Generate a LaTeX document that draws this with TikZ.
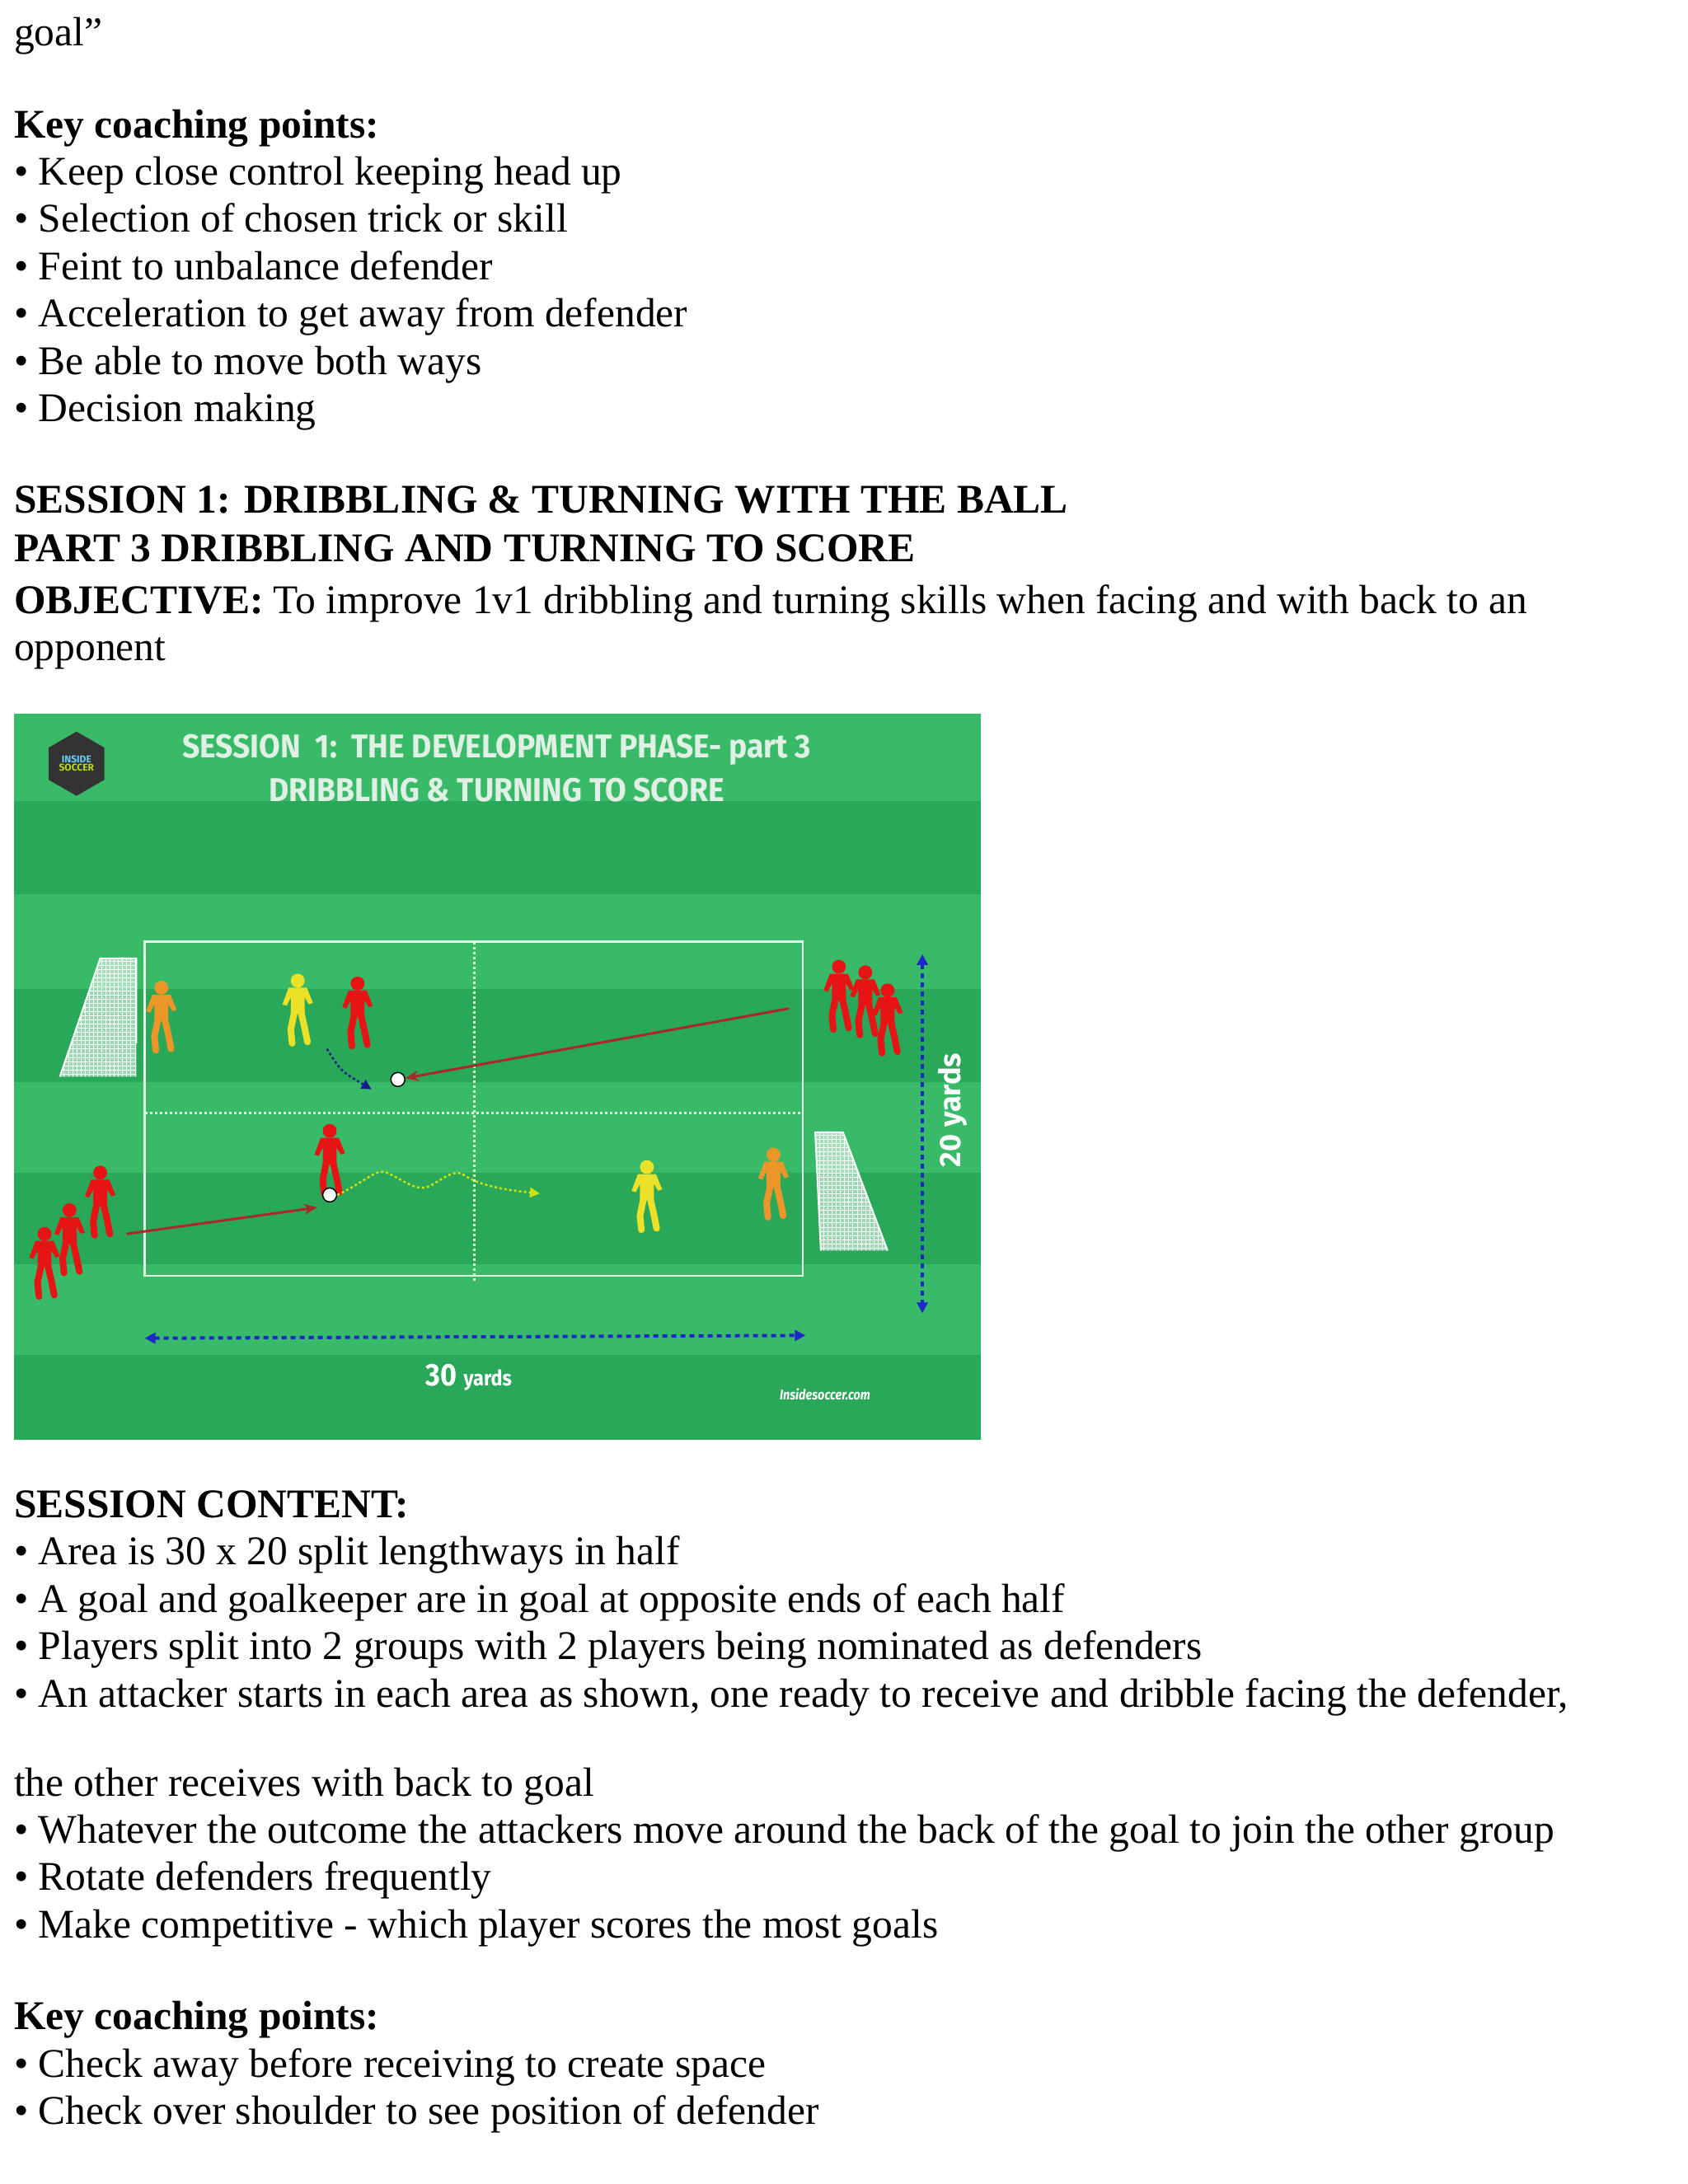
\documentclass[tikz,border=0pt]{standalone}
\usepackage{fontspec}
\setmainfont{Liberation Serif}
\newfontfamily\titlefont{Fira Sans}
\usetikzlibrary{arrows.meta,shapes.geometric,decorations.pathmorphing}
\definecolor{glight}{RGB}{56,186,104}
\definecolor{gdark}{RGB}{42,168,90}
\definecolor{ttl}{RGB}{225,240,228}
\definecolor{pred}{RGB}{230,20,20}
\definecolor{pyel}{RGB}{235,225,40}
\definecolor{porg}{RGB}{235,150,40}
\definecolor{arr}{RGB}{170,40,40}
\definecolor{dblue}{RGB}{30,40,200}
\newcommand\bodyfs{\fontsize{49.5}{54}\selectfont}
\tikzset{
  txt/.style={anchor=base west,inner sep=0pt,font=\bodyfs},
  hd/.style={txt,font=\bodyfs\bfseries},
  ttlnode/.style={inner sep=0pt,text=ttl,font=\titlefont\bfseries\fontsize{40}{44}\selectfont},
  pics/player/.style={code={
    \fill[#1] (0,-45) circle (5);
    \fill[#1] (-6.5,-40) -- (6.5,-40) -- (11,-29) -- (8,-28) -- (5,-33) -- (5,-21) -- (-5,-21) -- (-5,-33) -- (-8,-27) -- (-11,-28) -- cycle;
    \draw[#1,line width=8pt,line cap=round] (-2.5,-22) -- (-5,-10) -- (-4,0) (2.5,-22) -- (5,-11) -- (7,-1);
  }},
  field/.style={draw=white!90!green,line width=2.5pt},
  fdash/.style={draw=white!85!green,line width=2.5pt,dash pattern=on 3pt off 3pt},
  meas/.style={draw=dblue,line width=4pt,dash pattern=on 6pt off 5pt}
}
\begin{document}
\begin{tikzpicture}[x=1.688pt,y=-1.688pt]
\useasboundingbox (0,0) rectangle (1213,1570);
\fill[white] (0,0) rectangle (1213,1570);
% top text
\node[txt] (t0) at (10,33) {goal”};
\node[hd] (k1) at (10,99) {Key coaching points:};
\node[txt] (b1) at (10,133) {• Keep close control keeping head up};
\node[txt] (b2) at (10,167) {• Selection of chosen trick or skill};
\node[txt] (b3) at (10,201) {• Feint to unbalance defender};
\node[txt] (b4) at (10,235) {• Acceleration to get away from defender};
\node[txt] (b5) at (10,269) {• Be able to move both ways};
\node[txt] (b6) at (10,303) {• Decision making};
\node[hd] (s1) at (10,369) {SESSION 1: DRIBBLING \& TURNING WITH THE BALL};
\node[hd] (s2) at (10,404) {PART 3 DRIBBLING AND TURNING TO SCORE};
\node[txt] (s3) at (10,441) {\textbf{OBJECTIVE:} To improve 1v1 dribbling and turning skills when facing and with back to an};
\node[txt] (s4) at (10,475) {opponent};
% diagram background
\fill[glight] (10,513) rectangle (705,1035);
\foreach \a/\b in {576/643,711/778,843/909,974/1035}{\fill[gdark] (10,\a) rectangle (705,\b);}
% logo
\node[regular polygon,regular polygon sides=6,fill=black!80,minimum size=78pt,inner sep=0pt,rotate=90] (logo) at (55,549) {};
\node[font=\titlefont\bfseries\fontsize{12}{12}\selectfont,text=cyan!60!white,align=center,inner sep=0pt] (logot) at (55,549) {INSIDE\\[-2pt]{\color{yellow!70!green}SOCCER}};
\node[ttlnode] (ttl1) at (357,539) {\scalebox{0.93}[1]{SESSION\ \ 1:\ \ THE DEVELOPMENT PHASE- part 3}};
\node[ttlnode] (ttl2) at (357,568) {\scalebox{0.93}[1]{DRIBBLING \& TURNING TO SCORE}};
% field
\draw[field] (104,677) rectangle (577,917);
\coordinate (vt) at (341,677); \coordinate (vb) at (341,921);
\coordinate (hl) at (104,800); \coordinate (hr) at (577,800);
\draw[fdash] (vt) -- (vb);
\draw[fdash] (hl) -- (hr);
% goals
\begin{scope}
\clip (72,689) -- (98,689) -- (98,774) -- (43,774) -- cycle;
\fill[white,opacity=0.55] (40,685) rectangle (100,776);
\foreach \i in {0,3,...,60}{\draw[white,line width=0.4pt] (40+\i,685) -- (40+\i,776);}
\foreach \i in {0,3,...,90}{\draw[white,line width=0.4pt] (40,685+\i) -- (100,685+\i);}
\end{scope}
\draw[white,line width=2pt] (43,774) -- (72,689) -- (98,689) -- (98,750);
\begin{scope}
\clip (586,814) -- (606,814) -- (638,899) -- (590,899) -- cycle;
\fill[white,opacity=0.55] (580,810) rectangle (640,902);
\foreach \i in {0,3,...,60}{\draw[white,line width=0.4pt] (580+\i,810) -- (580+\i,902);}
\foreach \i in {0,3,...,92}{\draw[white,line width=0.4pt] (580,810+\i) -- (640,810+\i);}
\end{scope}
\draw[white,line width=2pt] (590,899) -- (586,814) -- (606,814) -- (638,899);
% players
\pic at (116,755) {player=porg};
\pic at (214,750) {player=pyel};
\pic at (257,752) {player=pred};
\pic at (603,740) {player=pred};
\pic at (622,744) {player=pred};
\pic at (638,757) {player=pred};
\pic at (237,858) {player=pred};
\pic at (72,888) {player=pred};
\pic at (50,915) {player=pred};
\pic at (32,932) {player=pred};
\pic at (465,884) {player=pyel};
\pic at (556,875) {player=porg};
% balls
\node[circle,draw=black,fill=white,line width=1.5pt,minimum size=17pt,inner sep=0pt] (ball1) at (286,776) {};
\node[circle,draw=black,fill=white,line width=1.5pt,minimum size=17pt,inner sep=0pt] (ball2) at (237,859) {};
\coordinate (r1s) at (567,725);
\coordinate (r2s) at (91,887); \coordinate (r2e) at (228,868);
\draw[arr,line width=3pt,-{Stealth[length=16pt,width=13pt]}] (r1s) -- (ball1);
\draw[arr,line width=3pt,-{Stealth[length=16pt,width=13pt]}] (r2s) -- (r2e);
\coordinate (bl1) at (235,754); \coordinate (bl2) at (267,783);
\draw[dblue!70!black,line width=2.5pt,dash pattern=on 3pt off 3pt,-{Triangle[length=12pt,width=12pt]}] (bl1) .. controls (245,770) .. (bl2);
\coordinate (ye) at (388,858);
\draw[yellow!80!green,line width=2.5pt,dash pattern=on 3pt off 3pt,-{Triangle[length=12pt,width=12pt]}] (ball2.east) .. controls (265,848) and (270,840) .. (278,843) .. controls (290,848) and (300,858) .. (310,852) .. controls (320,846) and (328,840) .. (334,845) .. controls (345,852) and (360,855) .. (ye);
% measurements
\coordinate (ml) at (104,962); \coordinate (mr) at (579,960);
\draw[meas,{Triangle[length=13pt,width=13pt]}-{Triangle[length=13pt,width=13pt]}] (ml) -- (mr);
\coordinate (mt) at (663,686); \coordinate (mb) at (663,944);
\draw[meas,{Triangle[length=13pt,width=13pt]}-{Triangle[length=13pt,width=13pt]}] (mt) -- (mb);
\node[inner sep=0pt,text=white,font=\titlefont\bfseries] (l30) at (337,990) {\scalebox{0.9}[1]{\fontsize{38}{40}\selectfont 30 \fontsize{26}{28}\selectfont yards}};
\node[inner sep=0pt,text=white,font=\titlefont\bfseries\fontsize{36}{38}\selectfont,rotate=90] (l20) at (685,798) {20 yards};
\node[inner sep=0pt,text=white,font=\titlefont\bfseries\itshape\fontsize{17}{19}\selectfont] (web) at (593,1002) {\scalebox{0.85}[1]{Insidesoccer.com}};
% bottom text
\node[hd] (c0) at (10,1091) {SESSION CONTENT:};
\node[txt] (c1) at (10,1125) {• Area is 30 x 20 split lengthways in half};
\node[txt] (c2) at (10,1159) {• A goal and goalkeeper are in goal at opposite ends of each half};
\node[txt] (c3) at (10,1193) {• Players split into 2 groups with 2 players being nominated as defenders};
\node[txt] (c4) at (10,1227) {• An attacker starts in each area as shown, one ready to receive and dribble facing the defender,};
\node[txt] (c5) at (10,1291) {the other receives with back to goal};
\node[txt] (c6) at (10,1325) {• Whatever the outcome the attackers move around the back of the goal to join the other group};
\node[txt] (c7) at (10,1359) {• Rotate defenders frequently};
\node[txt] (c8) at (10,1393) {• Make competitive - which player scores the most goals};
\node[hd] (k2) at (10,1459) {Key coaching points:};
\node[txt] (d1) at (10,1493) {• Check away before receiving to create space};
\node[txt] (d2) at (10,1527) {• Check over shoulder to see position of defender};
\end{tikzpicture}
\end{document}
